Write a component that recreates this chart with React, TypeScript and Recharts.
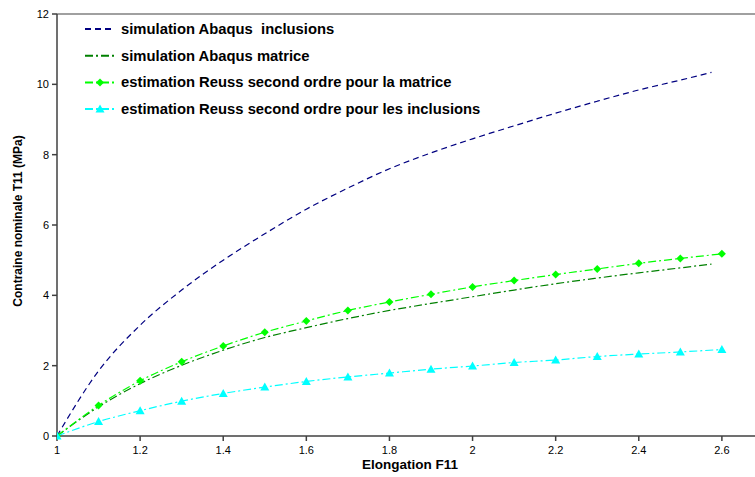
import { LineChart, Line, XAxis, YAxis, ReferenceLine, Label } from "recharts";

// elongation steps of the second-order Reuss estimates
const estX = [1, 1.1, 1.2, 1.3, 1.4, 1.5, 1.6, 1.7, 1.8, 1.9, 2, 2.1, 2.2, 2.3, 2.4, 2.5, 2.6];
const reussMatrice = [0, 0.87, 1.57, 2.11, 2.56, 2.95, 3.27, 3.57, 3.81, 4.03, 4.24, 4.42, 4.59, 4.75, 4.91, 5.05, 5.18];
const reussInclusions = [0, 0.41, 0.72, 0.99, 1.21, 1.39, 1.55, 1.68, 1.79, 1.9, 1.99, 2.09, 2.16, 2.26, 2.33, 2.39, 2.46];

// Abaqus runs stop a little before 2.6
const simX = [1, 1.1, 1.2, 1.3, 1.4, 1.5, 1.6, 1.7, 1.8, 1.9, 2, 2.1, 2.2, 2.3, 2.4, 2.5, 2.575];
const abaqusInclusions = [0, 1.85, 3.15, 4.15, 5.0, 5.75, 6.45, 7.05, 7.6, 8.05, 8.45, 8.82, 9.18, 9.52, 9.84, 10.12, 10.34];
const abaqusMatrice = [0, 0.83, 1.49, 2.01, 2.44, 2.8, 3.08, 3.34, 3.57, 3.77, 3.96, 4.15, 4.33, 4.49, 4.64, 4.78, 4.89];

const xTicks = [1, 1.2, 1.4, 1.6, 1.8, 2, 2.2, 2.4, 2.6];
const yTicks = [0, 2, 4, 6, 8, 10, 12];

const toRows = (xs: number[], ys: number[]) => xs.map((x, i) => ({ x, y: ys[i] }));

const FONT = "'Liberation Sans', Arial, sans-serif";

const Diamond = (props: any) => {
  const { cx, cy } = props;
  if (cx == null || cy == null) return null;
  return <polygon points={`${cx},${cy - 4} ${cx + 4},${cy} ${cx},${cy + 4} ${cx - 4},${cy}`} fill="#00FF00" />;
};

const Triangle = (props: any) => {
  const { cx, cy } = props;
  if (cx == null || cy == null) return null;
  return <polygon points={`${cx},${cy - 4.5} ${cx + 4.5},${cy + 3.5} ${cx - 4.5},${cy + 3.5}`} fill="#00FFFF" />;
};

const series = [
  { name: "simulation Abaqus  inclusions", color: "#000080", dash: "6 4", marker: null },
  { name: "simulation Abaqus matrice", color: "#008000", dash: "8 3 2 3", marker: null },
  { name: "estimation Reuss second ordre pour la matrice", color: "#00FF00", dash: "8 3 2 3", marker: "diamond" },
  { name: "estimation Reuss second ordre pour les inclusions", color: "#00FFFF", dash: "8 3 2 3", marker: "triangle" },
];

// legend sits inside the plot area, top-left
const LegendBox = () => (
  <svg width={440} height={110} style={{ position: "absolute", left: 83, top: 18 }}>
    {series.map((s, i) => {
      const y = 11 + i * 26.7;
      return (
        <g key={s.name}>
          <line x1={2} x2={32} y1={y} y2={y} stroke={s.color} strokeWidth={2} strokeDasharray={s.dash} />
          {s.marker === "diamond" && <Diamond cx={17} cy={y} />}
          {s.marker === "triangle" && <Triangle cx={17} cy={y} />}
          <text x={38} y={y + 5} fontSize={14.8} fontWeight="bold" fontFamily={FONT} fill="#000" style={{ whiteSpace: "pre" }}>
            {s.name}
          </text>
        </g>
      );
    })}
  </svg>
);

const YTitle = (props: any) => {
  const { viewBox } = props;
  const cx = viewBox.x + 8;
  const cy = viewBox.y + viewBox.height / 2 - 4;
  return (
    <text
      x={cx}
      y={cy}
      transform={`rotate(-90 ${cx} ${cy})`}
      textAnchor="middle"
      dominantBaseline="central"
      fontSize={12}
      fontWeight="bold"
      fontFamily={FONT}
      fill="#000"
    >
      Contraine nominale T11 (MPa)
    </text>
  );
};

const XTitle = (props: any) => {
  const { viewBox } = props;
  return (
    <text
      x={410}
      y={viewBox.y + 28}
      textAnchor="middle"
      dominantBaseline="central"
      fontSize={13.5}
      fontWeight="bold"
      fontFamily={FONT}
      fill="#000"
    >
      Elongation F11
    </text>
  );
};

export default function App() {
  return (
    <div style={{ position: "absolute", left: 0, top: 0, width: 755, height: 477, overflow: "hidden", background: "#fff" }}>
      <LineChart width={815} height={477} margin={{ top: 14, right: 10, bottom: 0, left: 10 }}>
        <XAxis
          type="number"
          dataKey="x"
          domain={[1, 2.8]}
          ticks={xTicks}
          interval={0}
          height={41}
          allowDataOverflow
          stroke="#404040"
          strokeWidth={1.5}
          tickSize={5}
          tick={{ fontSize: 11, fontFamily: FONT, fill: "#000" }}
          tickMargin={5}
        >
          <Label content={XTitle} />
        </XAxis>
        <YAxis
          type="number"
          dataKey="y"
          domain={[0, 12]}
          ticks={yTicks}
          interval={0}
          width={47}
          stroke="#404040"
          strokeWidth={1.5}
          tickSize={5}
          tick={{ fontSize: 11, fontFamily: FONT, fill: "#000" }}
          tickMargin={3}
        >
          <Label content={YTitle} />
        </YAxis>
        <ReferenceLine y={12} stroke="#808080" strokeWidth={1.5} />
        <Line
          data={toRows(simX, abaqusInclusions)}
          dataKey="y"
          name={series[0].name}
          type="monotone"
          stroke={series[0].color}
          strokeWidth={1.2}
          strokeDasharray={series[0].dash}
          dot={false}
          isAnimationActive={false}
        />
        <Line
          data={toRows(simX, abaqusMatrice)}
          dataKey="y"
          name={series[1].name}
          type="monotone"
          stroke={series[1].color}
          strokeWidth={1.2}
          strokeDasharray={series[1].dash}
          dot={false}
          isAnimationActive={false}
        />
        <Line
          data={toRows(estX, reussMatrice)}
          dataKey="y"
          name={series[2].name}
          type="monotone"
          stroke={series[2].color}
          strokeWidth={1.2}
          strokeDasharray={series[2].dash}
          dot={<Diamond />}
          isAnimationActive={false}
        />
        <Line
          data={toRows(estX, reussInclusions)}
          dataKey="y"
          name={series[3].name}
          type="monotone"
          stroke={series[3].color}
          strokeWidth={1.2}
          strokeDasharray={series[3].dash}
          dot={<Triangle />}
          isAnimationActive={false}
        />
      </LineChart>
      <LegendBox />
    </div>
  );
}
